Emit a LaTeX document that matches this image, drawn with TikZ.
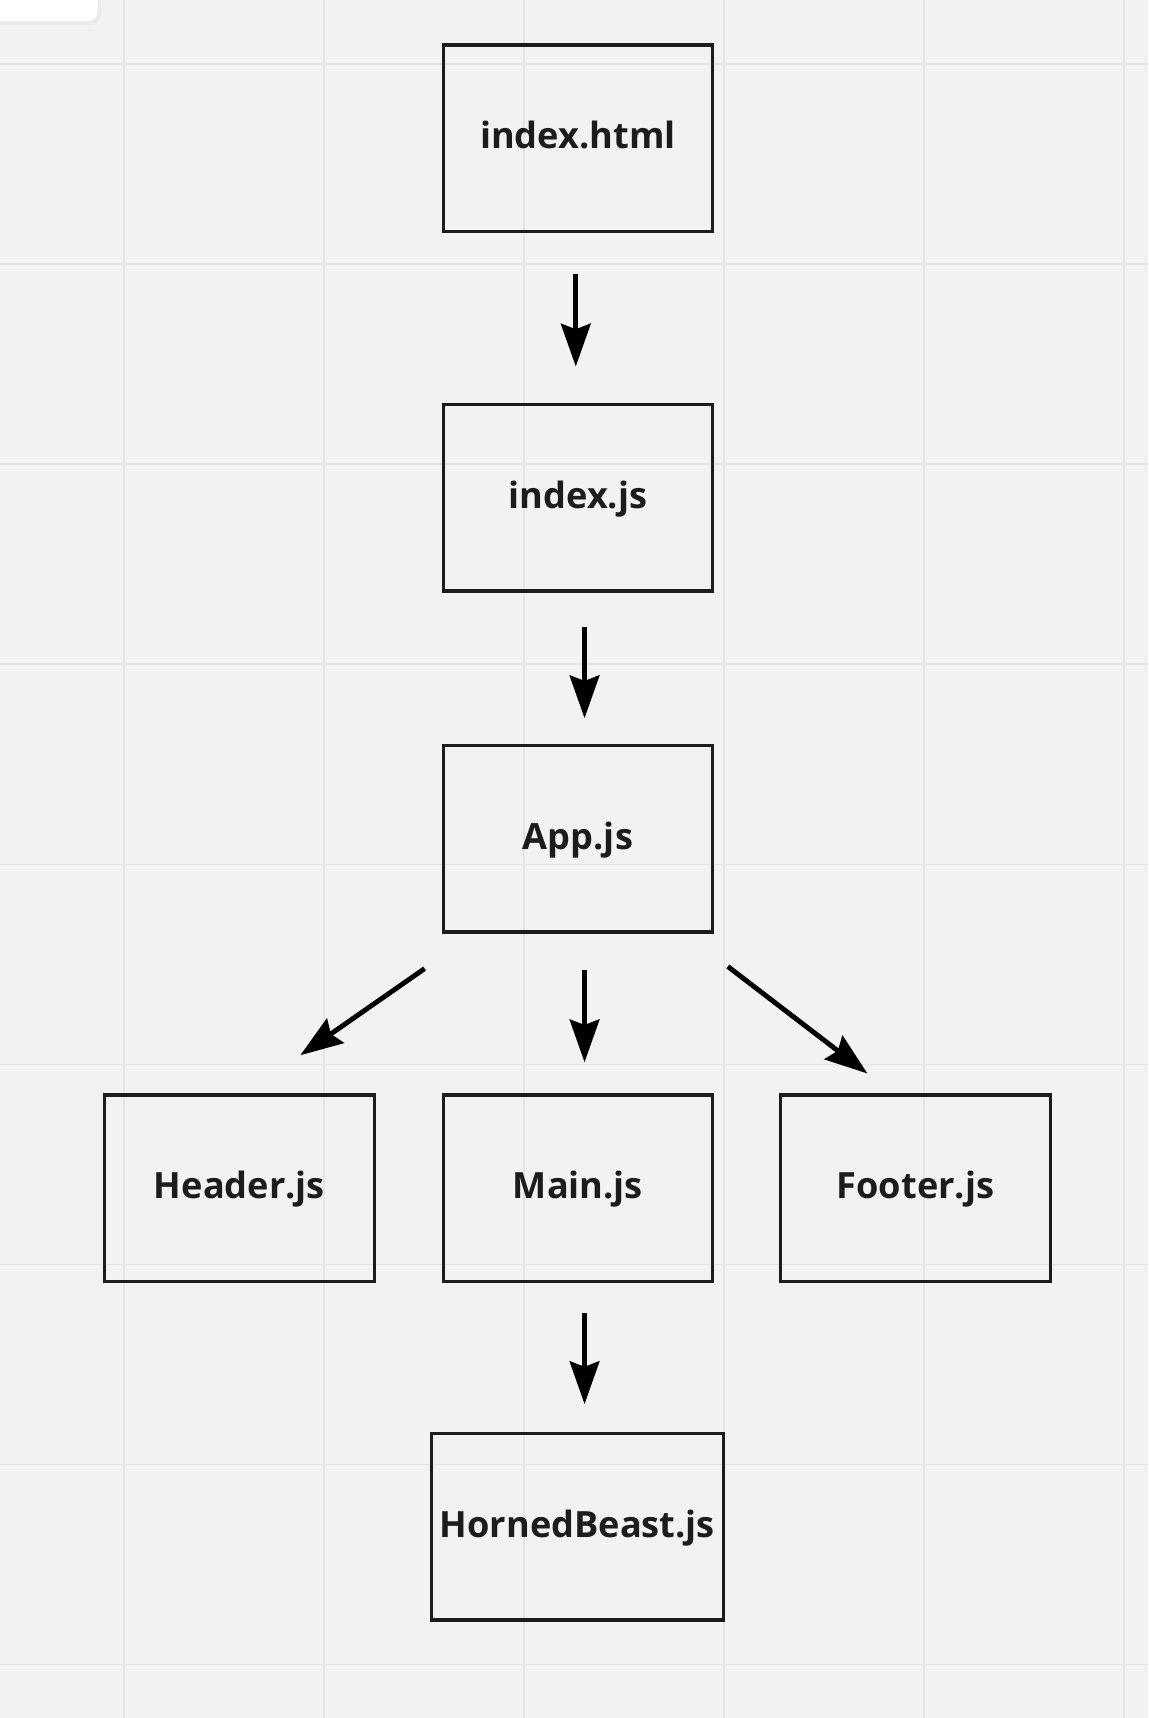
\documentclass[tikz,border=0pt]{standalone}
\usepackage{fontspec}
\setmainfont{Open Sans}
\usetikzlibrary{arrows.meta}

\definecolor{board}{HTML}{F2F2F2}
\definecolor{gridline}{HTML}{E4E4E4}
\definecolor{ink}{HTML}{1C1C1C}

\tikzset{
  file/.style={draw=ink, line width=3pt, minimum width=246pt, minimum height=170pt,
    inner sep=0pt, text=ink, font=\fontsize{33}{40}\selectfont\bfseries,
    text height=25pt, text depth=6pt},
  flow/.style={-{Stealth[length=39pt,width=27pt,inset=5pt]}, line width=4.5pt, black},
}

\begin{document}
\begin{tikzpicture}[x=1pt,y=-1pt]
% Board and its grid
\useasboundingbox (0,0) rectangle (1048,1568);
\fill[board] (0,0) rectangle (1048,1568);
\foreach \k in {0,...,5}
  \draw[gridline, line width=1.5pt] ({113+182.6*\k},0) -- ++(0,1568);
\foreach \k in {0,...,8}
  \draw[gridline, line width=1.5pt] (0,{58.5+182.6*\k}) -- ++(1048,0);
% Panel in the corner
\fill[black!8, rounded corners=9pt] (-12,-12) rectangle (92,23);
\fill[white, rounded corners=8pt] (-12,-12) rectangle (89,19);
% The files
\node[file] (html) at (527.5,126) {index.html};
\node[file] (indexjs) at (527.5,454.5) {index.js};
\node[file] (app) at (527.5,765.5) {App.js};
\node[file] (header) at (218.5,1084.5) {Header.js};
\node[file] (main) at (527.5,1084.5) {Main.js};
\node[file] (footer) at (835.5,1084.5) {Footer.js};
\node[file, minimum width=267pt] (beast) at (527,1393.5) {HornedBeast.js};
% What loads what
\draw[flow, shorten <=37.5pt, shorten >=33.5pt]
  ([xshift=-2pt]html.south) -- ([xshift=-2pt]indexjs.north);
\draw[flow, shorten <=31.5pt, shorten >=23.5pt]
  ([xshift=6pt]indexjs.south) -- ([xshift=6pt]app.north);
\draw[flow, shorten <=56pt, shorten >=61pt]
  ([xshift=-94pt]app.south) -- ([xshift=5.5pt]header.north);
\draw[flow, shorten <=33.5pt, shorten >=28.5pt]
  ([xshift=6pt]app.south) -- ([xshift=6pt]main.north);
\draw[flow, shorten <=49.5pt, shorten >=30pt]
  ([xshift=97.5pt]app.south) -- ([xshift=-20pt]footer.north);
\draw[flow, shorten <=27.5pt, shorten >=25.5pt]
  ([xshift=6pt]main.south) -- ([xshift=6.5pt]beast.north);
\end{tikzpicture}
\end{document}
